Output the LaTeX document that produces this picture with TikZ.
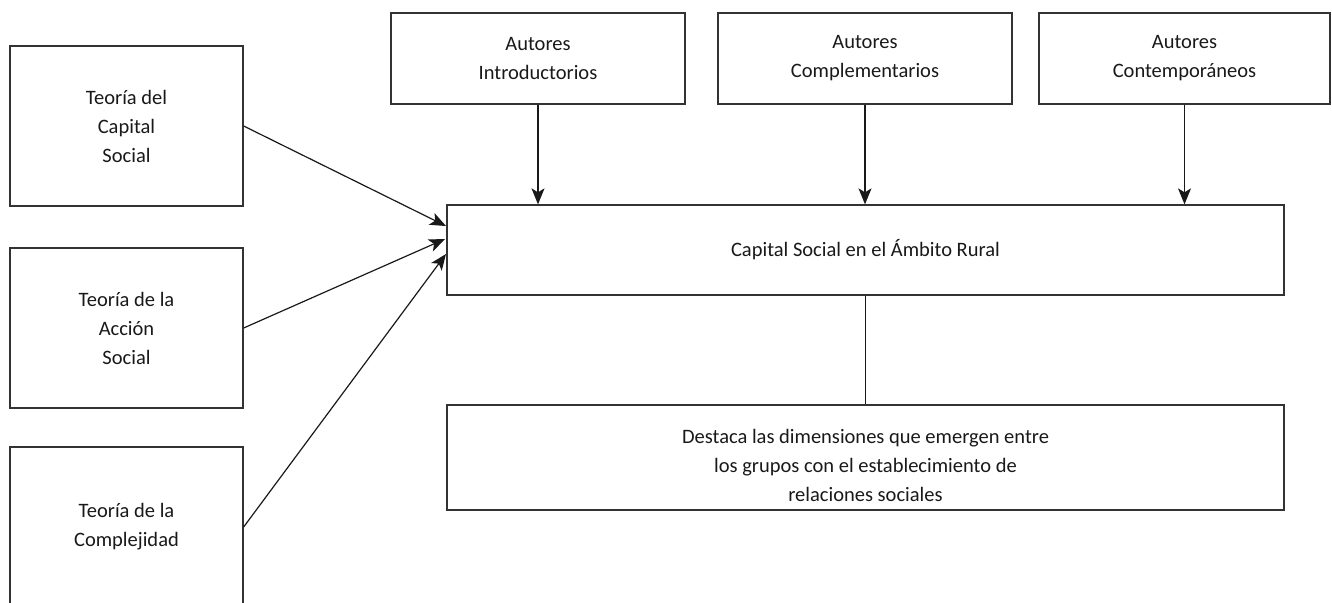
\documentclass[tikz,border=0pt]{standalone}
\usepackage{fontspec}
\setmainfont{Carlito}
\usetikzlibrary{arrows.meta}
\begin{document}
\begin{tikzpicture}[x=1pt,y=-1pt,
  txt/.style={align=center, font=\fontsize{20.5}{29}\selectfont, text=black!90},
  box/.style={draw=black!80, line width=1.3pt, txt, inner sep=0pt},
  arr/.style={draw=black!90, line width=1.2pt, -{Stealth[length=16pt,width=13pt,inset=4pt]}},
  ln/.style={draw=black!90, line width=1.2pt}]
\useasboundingbox (0,0) rectangle (1332,602);
\clip (0,0) rectangle (1332,602);
% left column
\node[box, minimum width=233pt, minimum height=160pt] (tc) at (126.5,126) {Teoría del\\Capital\\Social};
\node[box, minimum width=233pt, minimum height=160pt] (ta) at (126.5,328) {Teoría de la\\Acción\\Social};
\node[box, minimum width=233pt, minimum height=160pt] (tx) at (126.5,527) {Teoría de la\\Complejidad};
% top row
\node[box, minimum width=294pt, minimum height=91pt] (ai) at (538,58.5) {Autores\\Introductorios};
\node[box, minimum width=294pt, minimum height=91pt] (ac) at (865,58.5) {Autores\\Complementarios};
\node[box, minimum width=291pt, minimum height=91pt] (ao) at (1184.5,58.5) {Autores\\Contemporáneos};
% central
\node[box, minimum width=837pt, minimum height=90pt] (cs) at (865.5,250) {Capital Social en el Ámbito Rural};
\node[box, minimum width=837pt, minimum height=105pt,
  label={[txt, yshift=-8pt]center:{Destaca las dimensiones que emergen entre\\los grupos con el establecimiento de\\relaciones sociales}}] (dd) at (865.5,457.5) {};
% arrow targets
\coordinate (p1) at (446,226);
\coordinate (p2) at (445,239);
\coordinate (p3) at (446,254);
\draw[arr] (tc.east) -- (p1);
\draw[arr] (ta.east) -- (p2);
\draw[arr] (tx.east) -- (p3);
\draw[arr] (ai.south) -- (ai.south |- cs.north);
\draw[arr] (ac.south) -- (ac.south |- cs.north);
\draw[arr] (ao.south) -- (ao.south |- cs.north);
\draw[ln] (cs.south) -- (dd.north);
\end{tikzpicture}
\end{document}
